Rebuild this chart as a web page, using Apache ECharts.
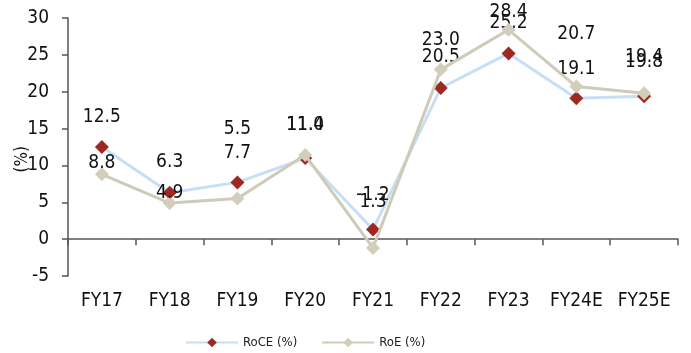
<!DOCTYPE html>
<html>
<head>
<meta charset="utf-8">
<script src="https://cdn.jsdelivr.net/npm/echarts@6/dist/echarts.min.js"></script>
<style>
  html, body { margin: 0; padding: 0; background: #fff; }
  #chart { width: 691px; height: 353px; }
</style>
</head>
<body>
<div id="chart"></div>
<script>
// Fiscal years shown on the category axis
const years = ['FY17', 'FY18', 'FY19', 'FY20', 'FY21', 'FY22', 'FY23', 'FY24E', 'FY25E'];

// Return ratios, in percent
const roce = [12.5, 6.3, 7.7, 11.0, 1.3, 20.5, 25.2, 19.1, 19.4];
const roe = [8.8, 4.9, 5.5, 11.4, -1.2, 23.0, 28.4, 20.7, 19.8];

// Vertical placement of each value label relative to its marker (px)
const roceLabelLift = [-30, -31, -29, -33, -27, -31, -30, -29, -39];
const roeLabelLift = [-11, -10, -70, -30, -53, -30, -18, -52, -31];

const FONT = '"DejaVu Sans Condensed", "Liberation Sans Narrow", sans-serif';

function withLabels(values, lifts) {
  return values.map((v, i) => ({
    value: v,
    label: { offset: [0, lifts[i]] }
  }));
}

const chart = echarts.init(document.getElementById('chart'), null, { renderer: 'canvas' });

chart.setOption({
  animation: false,
  backgroundColor: '#ffffff',
  textStyle: { fontFamily: FONT },
  grid: { left: 68, right: 13, top: 18, bottom: 77, containLabel: false },
  legend: {
    top: 331,
    left: 180,
    itemWidth: 52,
    itemHeight: 12,
    itemGap: 24,
    textStyle: { fontFamily: FONT, fontSize: 13, color: '#222' },
    data: ['RoCE (%)', 'RoE (%)']
  },
  graphic: [{
    type: 'text',
    left: 14,
    top: 146,
    rotation: Math.PI / 2,
    style: { text: '(%)', fontFamily: FONT, fontSize: 17, fill: '#111' }
  }],
  xAxis: {
    type: 'category',
    data: years,
    boundaryGap: true,
    axisLine: { onZero: true, lineStyle: { color: '#555', width: 1.5 } },
    axisTick: { show: true, length: 6, inside: false, lineStyle: { color: '#555', width: 1.5 } },
    axisLabel: { color: '#111', fontSize: 19, fontFamily: FONT, margin: 16, interval: 0 },
    splitLine: { show: false }
  },
  yAxis: {
    type: 'value',
    min: -5,
    max: 30,
    interval: 5,
    axisLine: { show: true, lineStyle: { color: '#555', width: 1.5 } },
    axisTick: { show: true, length: 6, inside: false, lineStyle: { color: '#555', width: 1.5 } },
    axisLabel: { color: '#111', fontSize: 19, fontFamily: FONT, margin: 19 },
    splitLine: { show: false }
  },
  series: [
    {
      name: 'RoCE (%)',
      type: 'line',
      data: withLabels(roce, roceLabelLift),
      symbol: 'diamond',
      symbolSize: 14,
      itemStyle: { color: '#9c2a20' },
      lineStyle: { color: '#c7dff6', width: 3 },
      label: {
        show: true,
        position: 'inside',
        color: '#111',
        fontSize: 19,
        fontFamily: FONT,
        formatter: p => p.value.toFixed(1)
      },
      z: 2
    },
    {
      name: 'RoE (%)',
      type: 'line',
      data: withLabels(roe, roeLabelLift),
      symbol: 'diamond',
      symbolSize: 14,
      itemStyle: { color: '#d2cebb' },
      lineStyle: { color: '#cfcbb8', width: 3 },
      label: {
        show: true,
        position: 'inside',
        color: '#111',
        fontSize: 19,
        fontFamily: FONT,
        formatter: p => p.value.toFixed(1)
      },
      z: 3
    }
  ]
});
</script>
</body>
</html>
